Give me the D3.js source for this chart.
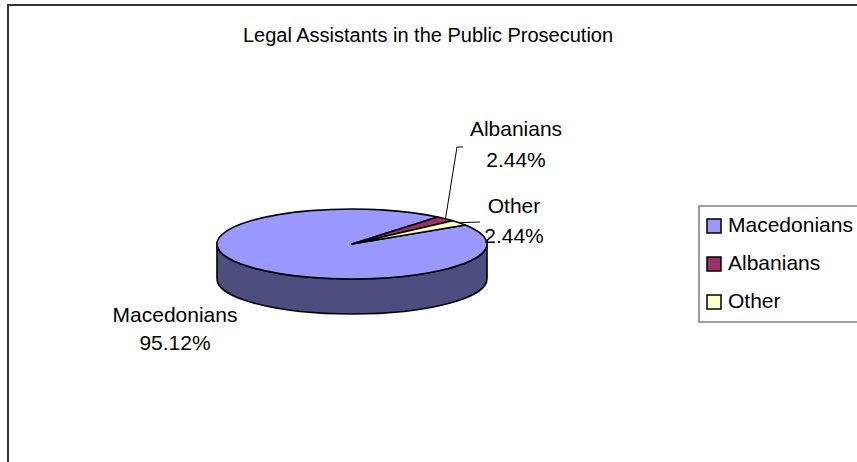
<!DOCTYPE html>
<html>
<head>
<meta charset="utf-8">
<script src="https://cdn.jsdelivr.net/npm/d3@7"></script>
<style>
  body { margin: 0; background: #fff; }
  text { font-family: "Liberation Sans", Arial, sans-serif; fill: #000; }
</style>
</head>
<body>
<svg class="chart"></svg>
<script>
// Data (counts, 41 in all)

var categories = ["Macedonians", "Albanians", "Other"];
var counts = [39, 1, 1];
var colors = ["#9999FF", "#993366", "#FFFFCC"];
var sideColors = ["#4D4D80", "#4D1A33", "#808066"];

// Label placement (text centres) for each slice

var labelPos = [
	{x: 175, y1: 322, y2: 350},
	{x: 516, y1: 136, y2: 167},
	{x: 514, y1: 213, y2: 243}
];

var width = 857,
	height = 462,
	cx = 352,
	cy = 244,
	rx = 135,
	ry = 35,
	depth = 35,
	fontSize = 21;

var chart = d3.select(".chart")
	.attr("width", width)
	.attr("height", height);

// Chart frame (only left and top edges fall inside the picture)

chart.append("path")
	.attr("d", "M8," + height + "V5H" + width)
	.attr("fill", "none")
	.attr("stroke", "#333")
	.attr("stroke-width", 2);

chart.append("text")
	.attr("x", 428)
	.attr("y", 42)
	.attr("text-anchor", "middle")
	.style("font-size", "20px")
	.text("Legal Assistants in the Public Prosecution");

// Pie layout: Excel first-slice angle of 57 degrees, clockwise

var start = 57 * Math.PI / 180;
var pie = d3.pie()
	.sort(null)
	.startAngle(start)
	.endAngle(start + 2 * Math.PI);

var slices = pie(counts);
var total = d3.sum(counts);
var pct = d3.format(".2%");

function pt(a, dy) {
	return [cx + rx * Math.sin(a), cy - ry * Math.cos(a) + (dy || 0)];
}

function topPath(d) {
	var p0 = pt(d.startAngle), p1 = pt(d.endAngle);
	var large = (d.endAngle - d.startAngle) > Math.PI ? 1 : 0;
	return "M" + cx + "," + cy + "L" + p0 + "A" + rx + "," + ry + " 0 " + large + " 1 " + p1 + "Z";
}

function sidePath(a0, a1) {
	var p0 = pt(a0), p1 = pt(a1), q0 = pt(a0, depth), q1 = pt(a1, depth);
	return "M" + p0 + "A" + rx + "," + ry + " 0 0 1 " + p1 +
		"L" + q1 + "A" + rx + "," + ry + " 0 0 0 " + q0 + "Z";
}

// Side walls: only the front half (angles between 90 and 270 degrees) shows

var sides = [];
slices.forEach(function(d, i) {
	[0, 2 * Math.PI].forEach(function(off) {
		var a0 = Math.max(d.startAngle, Math.PI / 2 + off),
			a1 = Math.min(d.endAngle, 3 * Math.PI / 2 + off);
		if (a1 > a0) sides.push({i: i, a0: a0, a1: a1});
	});
});

chart.selectAll(".side")
	.data(sides)
.enter().append("path")
	.attr("class", "side")
	.attr("d", function(s) { return sidePath(s.a0, s.a1); })
	.attr("fill", function(s) { return sideColors[s.i]; })
	.attr("stroke", "#000")
	.attr("stroke-width", 1.6)
	.attr("stroke-linejoin", "round");

chart.selectAll(".slice")
	.data(slices)
.enter().append("path")
	.attr("class", "slice")
	.attr("d", topPath)
	.attr("fill", function(d, i) { return colors[i]; })
	.attr("stroke", "#000")
	.attr("stroke-width", 1.6)
	.attr("stroke-linejoin", "round");

// Leader lines for the two thin slices

var albMid = pt((slices[1].startAngle + slices[1].endAngle) / 2);
chart.append("path")
	.attr("d", "M" + albMid + "L457,147H463")
	.attr("fill", "none")
	.attr("stroke", "#000")
	.attr("stroke-width", 1);

var othMid = pt((slices[2].startAngle + slices[2].endAngle) / 2);
chart.append("path")
	.attr("d", "M" + othMid + "L480,222")
	.attr("fill", "none")
	.attr("stroke", "#000")
	.attr("stroke-width", 1);

// Data labels

var labels = chart.selectAll(".label")
	.data(slices)
.enter().append("g")
	.attr("class", "label");

labels.append("text")
	.attr("x", function(d, i) { return labelPos[i].x; })
	.attr("y", function(d, i) { return labelPos[i].y1; })
	.attr("text-anchor", "middle")
	.style("font-size", fontSize + "px")
	.text(function(d, i) { return categories[i]; });

labels.append("text")
	.attr("x", function(d, i) { return labelPos[i].x; })
	.attr("y", function(d, i) { return labelPos[i].y2; })
	.attr("text-anchor", "middle")
	.style("font-size", fontSize + "px")
	.text(function(d) { return pct(d.value / total); });

// Legend

var legend = chart.append("g")
	.attr("transform", "translate(699,206)");

legend.append("rect")
	.attr("width", 200)
	.attr("height", 116)
	.attr("fill", "#fff")
	.attr("stroke", "#808080")
	.attr("stroke-width", 1.5);

var items = legend.selectAll(".item")
	.data(categories)
.enter().append("g")
	.attr("class", "item")
	.attr("transform", function(d, i) { return "translate(8," + (13 + i * 38) + ")"; });

items.append("rect")
	.attr("width", 14)
	.attr("height", 14)
	.attr("fill", function(d, i) { return colors[i]; })
	.attr("stroke", "#000")
	.attr("stroke-width", 1.5);

items.append("text")
	.attr("x", 21)
	.attr("y", 13)
	.style("font-size", fontSize + "px")
	.text(function(d) { return d; });
</script>
</body>
</html>
